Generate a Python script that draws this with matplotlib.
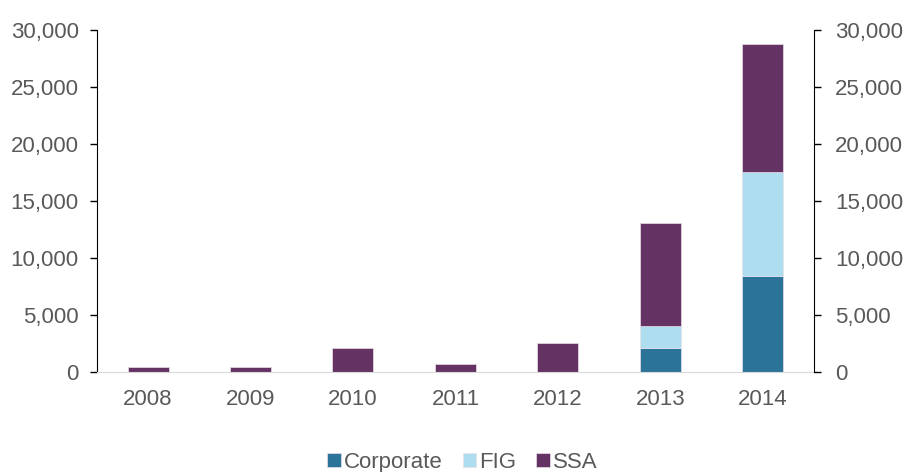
import matplotlib
matplotlib.use("Agg")
import matplotlib.pyplot as plt
import numpy as np

years = ["2008", "2009", "2010", "2011", "2012", "2013", "2014"]
corporate = [0, 0, 0, 0, 0, 2140, 8460]
fig_vals = [0, 0, 0, 0, 0, 1900, 9100]
ssa = [470, 470, 2140, 675, 2580, 8990, 11190]

colors = {"Corporate": "#2C7399", "FIG": "#AEDDEF", "SSA": "#643263"}
plt.rcParams['font.family'] = ['Liberation Sans', 'DejaVu Sans']
txt = "#595959"
fs = 16

fig = plt.figure(figsize=(9.05, 4.72), dpi=100)
ax = fig.add_axes([0.107, 0.2119, 0.7925, 0.7245])
x = np.arange(len(years))
w = 0.4
c = np.array(corporate); f = np.array(fig_vals); s = np.array(ssa)
ax.bar(x, c, w, color=colors["Corporate"], label="Corporate", edgecolor="#e8e0e8", linewidth=0.5)
ax.bar(x, f, w, bottom=c, color=colors["FIG"], label="FIG", edgecolor="#e8e0e8", linewidth=0.5)
ax.bar(x, s, w, bottom=c + f, color=colors["SSA"], label="SSA", edgecolor="#e8e0e8", linewidth=0.5)

ax.set_xlim(-0.5, 6.5)
ax.set_ylim(0, 30000)
ax.set_xticks(x)
ax.set_xticklabels(years)
yt = np.arange(0, 30001, 5000)
ax.set_yticks(yt)
ax.set_yticklabels([f"{v:,}" for v in yt])
ax.tick_params(axis='x', length=0, pad=12, labelsize=fs, colors=txt)
ax.tick_params(axis='y', length=5, width=1, direction='out', labelsize=fs, labelcolor=txt, color="#000000", pad=8)
for sp in ["top", "right"]:
    ax.spines[sp].set_visible(False)
ax.spines["left"].set_color("#000000")
ax.spines["bottom"].set_color("#d9d9d9")

ax2 = ax.twinx()
ax2.set_ylim(0, 30000)
ax2.set_yticks(yt)
ax2.set_yticklabels([f"{v:,}" for v in yt])
ax2.tick_params(axis='y', length=5, width=1, direction='out', labelsize=fs, labelcolor=txt, color="#000000", pad=10)
for sp in ["top", "left", "bottom"]:
    ax2.spines[sp].set_visible(False)
ax2.spines["right"].set_color("#000000")

leg = fig.legend(*ax.get_legend_handles_labels(), loc="center", bbox_to_anchor=(0.511, 0.02), ncol=3, frameon=False,
                 fontsize=fs, handlelength=0.6, handleheight=0.6, handletextpad=0.15, columnspacing=0.9)
for t in leg.get_texts():
    t.set_color(txt)

fig.savefig("out.png", dpi=100)
